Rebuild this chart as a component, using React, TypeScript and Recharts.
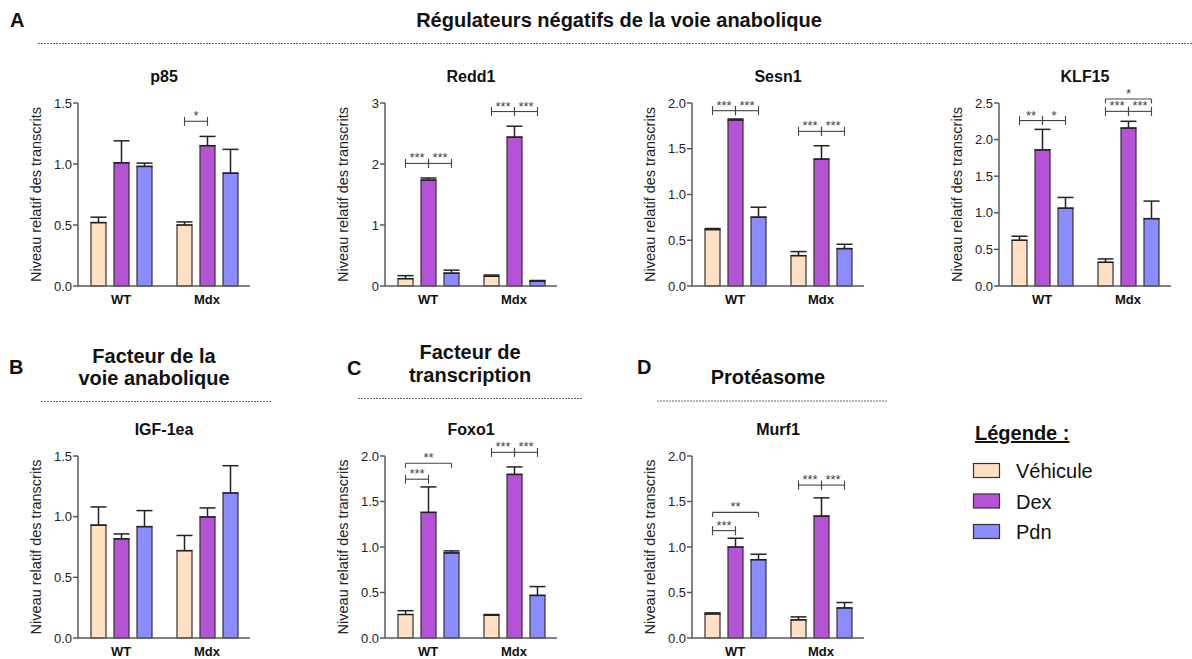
import React from "react"
import { BarChart, Bar, XAxis, YAxis, ErrorBar, LabelList } from "recharts"

const FONT = "Arial, 'Liberation Sans', sans-serif"
const AXIS = "#5a5a5a"

const groups = ["WT", "Mdx"]
const treatments = ["Véhicule", "Dex", "Pdn"]
const keys = ["veh", "dex", "pdn"]
const fills = ["#FFE0C2", "#B652D6", "#8B8CFF"]

// moyennes et SEM : [WT, Mdx] x [Véhicule, Dex, Pdn]
const p85Mean = [[0.52, 1.01, 0.98], [0.5, 1.15, 0.925]]
const p85Sem = [[0.044, 0.18, 0.027], [0.025, 0.076, 0.195]]
const redd1Mean = [[0.12, 1.735, 0.21], [0.16, 2.44, 0.08]]
const redd1Sem = [[0.05, 0.035, 0.05], [0.02, 0.18, 0.01]]
const sesn1Mean = [[0.617, 1.814, 0.752], [0.332, 1.387, 0.409]]
const sesn1Sem = [[0.011, 0.011, 0.109], [0.044, 0.146, 0.047]]
const klf15Mean = [[0.625, 1.86, 1.063], [0.324, 2.158, 0.92]]
const klf15Sem = [[0.055, 0.28, 0.147], [0.046, 0.092, 0.24]]
const igfMean = [[0.93, 0.817, 0.918], [0.72, 0.998, 1.195]]
const igfSem = [[0.15, 0.041, 0.132], [0.125, 0.074, 0.225]]
const foxo1Mean = [[0.258, 1.38, 0.935], [0.25, 1.797, 0.468]]
const foxo1Sem = [[0.042, 0.28, 0.022], [0.008, 0.083, 0.097]]
const murf1Mean = [[0.265, 1.0, 0.86], [0.2, 1.34, 0.33]]
const murf1Sem = [[0.011, 0.096, 0.06], [0.032, 0.2, 0.06]]

const ticks15 = [0, 0.5, 1, 1.5]
const ticks3 = [0, 1, 2, 3]
const ticks2 = [0, 0.5, 1, 1.5, 2]
const ticks25 = [0, 0.5, 1, 1.5, 2, 2.5]

// crochets de significativité : groupe, barre a -> b, hauteur, étoiles
const p85Stars = [{ g: 1, a: 0, b: 1, y: 1.35, t: "*" }]
const redd1Stars = [
  { g: 0, a: 0, b: 1, y: 2.01, t: "***" },
  { g: 0, a: 1, b: 2, y: 2.01, t: "***" },
  { g: 1, a: 0, b: 1, y: 2.86, t: "***" },
  { g: 1, a: 1, b: 2, y: 2.86, t: "***" },
]
const sesn1Stars = [
  { g: 0, a: 0, b: 1, y: 1.916, t: "***" },
  { g: 0, a: 1, b: 2, y: 1.916, t: "***" },
  { g: 1, a: 0, b: 1, y: 1.69, t: "***" },
  { g: 1, a: 1, b: 2, y: 1.69, t: "***" },
]
const klf15Stars = [
  { g: 0, a: 0, b: 1, y: 2.26, t: "**" },
  { g: 0, a: 1, b: 2, y: 2.26, t: "*" },
  { g: 1, a: 0, b: 1, y: 2.386, t: "***" },
  { g: 1, a: 1, b: 2, y: 2.386, t: "***" },
  { g: 1, a: 0, b: 2, y: 2.555, t: "*", down: true },
]
const foxo1Stars = [
  { g: 0, a: 0, b: 1, y: 1.745, t: "***" },
  { g: 0, a: 0, b: 2, y: 1.92, t: "**", down: true },
  { g: 1, a: 0, b: 1, y: 2.04, t: "***" },
  { g: 1, a: 1, b: 2, y: 2.04, t: "***" },
]
const murf1Stars = [
  { g: 0, a: 0, b: 1, y: 1.18, t: "***" },
  { g: 0, a: 0, b: 2, y: 1.38, t: "**", down: true },
  { g: 1, a: 0, b: 1, y: 1.68, t: "***" },
  { g: 1, a: 1, b: 2, y: 1.68, t: "***" },
]

const YW = 58
const PLOT_W = 172
const TOP = 43
const XH = 20
const BAR_GAP = 8

const bracketLayer = (list: any[]) => (p: any) => {
  const vb = p.viewBox && typeof p.viewBox.width === "number" ? p.viewBox : p
  const value = Number(p.value)
  if (!value || typeof vb.height !== "number") return null
  const h = Math.abs(vb.height)
  const zero = Math.max(vb.y, vb.y + vb.height)
  const py = (v: number) => zero - (v * h) / value
  const pitch = vb.width + BAR_GAP
  const cx = (s: number) => vb.x + vb.width / 2 + (s - 1) * pitch
  return (
    <g>
      {list
        .filter((b) => b.g === p.index)
        .map((b, i) => {
          const x1 = cx(b.a)
          const x2 = cx(b.b)
          const y = py(b.y)
          const up = b.down ? 0 : 4.5
          return (
            <g key={i} stroke="#444" strokeWidth={1.1}>
              <line x1={x1} x2={x2} y1={y} y2={y} />
              <line x1={x1} x2={x1} y1={y - up} y2={y + 4.5} />
              <line x1={x2} x2={x2} y1={y - up} y2={y + 4.5} />
              <text x={(x1 + x2) / 2} y={y - 1} textAnchor="middle" fontSize={13} fill="#444" stroke="none" fontFamily={FONT}>
                {b.t}
              </text>
            </g>
          )
        })}
    </g>
  )
}

function Panel({ axisX, plotTop, plotH, title, mean, sem, ticks, dec, stars }: any) {
  const data = groups.map((g, i) => ({
    group: g,
    veh: mean[i][0],
    dex: mean[i][1],
    pdn: mean[i][2],
    vehErr: [0, sem[i][0]],
    dexErr: [0, sem[i][1]],
    pdnErr: [0, sem[i][2]],
  }))
  const W = YW + PLOT_W + 8
  const H = TOP + plotH + XH + 2
  return (
    <div style={{ position: "absolute", left: axisX - YW, top: plotTop - TOP, width: W, height: H }}>
      <BarChart width={W} height={H} data={data} margin={{ top: TOP, right: 8, bottom: 2, left: 0 }} barSize={15} barGap={BAR_GAP}>
        <XAxis
          dataKey="group"
          tickLine={false}
          axisLine={{ stroke: AXIS, strokeWidth: 1.5 }}
          tickSize={6}
          tickMargin={3}
          height={XH}
          interval={0}
          tick={{ fill: "#111", fontSize: 13, fontWeight: "bold", fontFamily: FONT }}
        />
        <YAxis
          width={YW}
          domain={[0, ticks[ticks.length - 1]]}
          ticks={ticks}
          interval={0}
          tickFormatter={(v: number) => v.toFixed(dec)}
          tick={{ fill: "#222", fontSize: 13, fontFamily: FONT }}
          tickSize={5}
          tickMargin={1}
          axisLine={{ stroke: AXIS, strokeWidth: 1.5 }}
          tickLine={{ stroke: AXIS, strokeWidth: 1.5 }}
          label={{
            value: "Niveau relatif des transcrits",
            angle: -90,
            position: "insideLeft",
            offset: 15.5,
            style: { textAnchor: "middle", fontSize: 14.5, fill: "#222", fontFamily: FONT },
          }}
        />
        {keys.map((k, s) => (
          <Bar key={k} dataKey={k} fill={fills[s]} stroke="#333" strokeWidth={1.2} isAnimationActive={false}>
            <ErrorBar dataKey={k + "Err"} width={8} stroke="#222" strokeWidth={1.5} direction="y" />
            {s === 1 && <LabelList content={bracketLayer(stars)} />}
          </Bar>
        ))}
      </BarChart>
      <svg width={W} height={H} style={{ position: "absolute", left: 0, top: 0, pointerEvents: "none" }}>
        <text x={YW + PLOT_W / 2} y={TOP - 21} textAnchor="middle" fontSize={16} fontWeight="bold" fill="#111" fontFamily={FONT}>
          {title}
        </text>
      </svg>
    </div>
  )
}

export default function App() {
  const top = { plotTop: 103, plotH: 183 }
  const bottom = { plotTop: 456, plotH: 182 }
  return (
    <div style={{ position: "absolute", left: 0, top: 0, width: 1192, height: 659, background: "#fff", overflow: "hidden" }}>
      <svg width={1192} height={659} style={{ position: "absolute", left: 0, top: 0 }} fontFamily={FONT} fill="#111">
        <text x={10} y={27} fontSize={20} fontWeight="bold">A</text>
        <text x={619} y={27} fontSize={20} fontWeight="bold" textAnchor="middle">Régulateurs négatifs de la voie anabolique</text>
        <line x1={38} x2={1192} y1={43.5} y2={43.5} stroke="#666" strokeDasharray="2 1" />

        <text x={9} y={374} fontSize={20} fontWeight="bold">B</text>
        <text x={154} y={363} fontSize={20} fontWeight="bold" textAnchor="middle">Facteur de la</text>
        <text x={154} y={385} fontSize={20} fontWeight="bold" textAnchor="middle">voie anabolique</text>
        <line x1={41} x2={272} y1={401.5} y2={401.5} stroke="#666" strokeDasharray="2 1" />

        <text x={347} y={375} fontSize={20} fontWeight="bold">C</text>
        <text x={470} y={359} fontSize={20} fontWeight="bold" textAnchor="middle">Facteur de</text>
        <text x={470} y={382} fontSize={20} fontWeight="bold" textAnchor="middle">transcription</text>
        <line x1={358} x2={583} y1={398.5} y2={398.5} stroke="#666" strokeDasharray="2 1" />

        <text x={637} y={374} fontSize={20} fontWeight="bold">D</text>
        <text x={768} y={384} fontSize={20} fontWeight="bold" textAnchor="middle">Protéasome</text>
        <line x1={657} x2={888} y1={401} y2={401} stroke="#666" strokeDasharray="2 1" />

        <text x={975} y={440} fontSize={20} fontWeight="bold" textDecoration="underline">Légende :</text>
        {treatments.map((t, i) => (
          <g key={t}>
            <rect x={973.5} y={463.5 + i * 30.5} width={26} height={14} fill={fills[i]} stroke="#333" strokeWidth={1.2} />
            <text x={1016} y={478 + i * 30.5} fontSize={20}>{t}</text>
          </g>
        ))}
      </svg>

      <Panel axisX={78} {...top} title="p85" mean={p85Mean} sem={p85Sem} ticks={ticks15} dec={1} stars={p85Stars} />
      <Panel axisX={385} {...top} title="Redd1" mean={redd1Mean} sem={redd1Sem} ticks={ticks3} dec={0} stars={redd1Stars} />
      <Panel axisX={692} {...top} title="Sesn1" mean={sesn1Mean} sem={sesn1Sem} ticks={ticks2} dec={1} stars={sesn1Stars} />
      <Panel axisX={999} {...top} title="KLF15" mean={klf15Mean} sem={klf15Sem} ticks={ticks25} dec={1} stars={klf15Stars} />

      <Panel axisX={78} {...bottom} title="IGF-1ea" mean={igfMean} sem={igfSem} ticks={ticks15} dec={1} stars={[]} />
      <Panel axisX={385} {...bottom} title="Foxo1" mean={foxo1Mean} sem={foxo1Sem} ticks={ticks2} dec={1} stars={foxo1Stars} />
      <Panel axisX={692} {...bottom} title="Murf1" mean={murf1Mean} sem={murf1Sem} ticks={ticks2} dec={1} stars={murf1Stars} />
    </div>
  )
}
